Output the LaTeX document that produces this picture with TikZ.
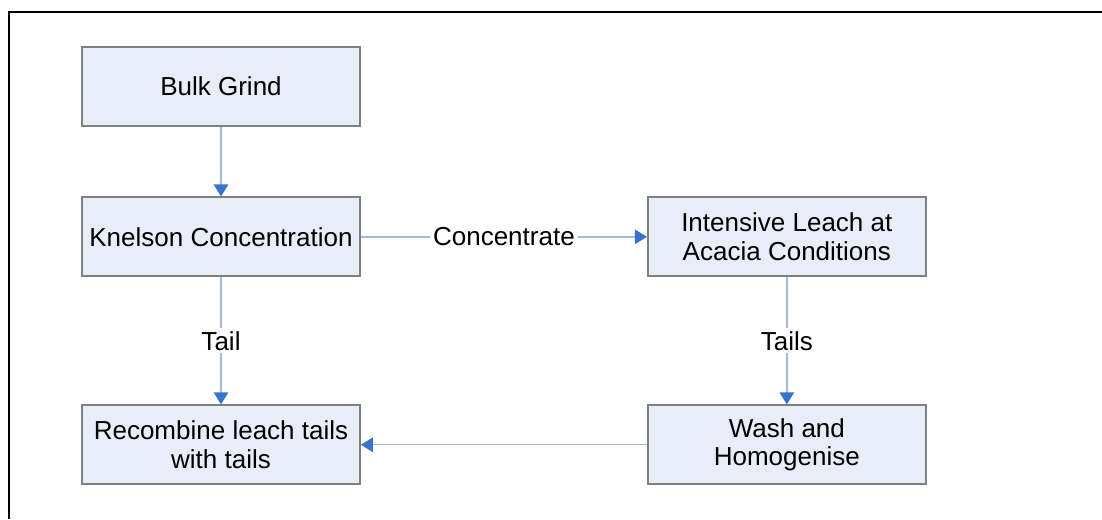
\documentclass[tikz,border=0pt]{standalone}
\usepackage{fontspec}
\setmainfont{Liberation Sans}
\definecolor{BoxFill}{RGB}{232,238,248}
\definecolor{BoxLine}{RGB}{128,128,128}
\definecolor{FlowLine}{RGB}{165,185,220}
\definecolor{FlowHead}{RGB}{55,115,205}
\usetikzlibrary{positioning,arrows.meta}

\begin{document}
\begin{tikzpicture}[x=0.025cm,y=-0.025cm,
      box/.style={draw=BoxLine,line width=1.2pt,fill=BoxFill,
                  minimum width=6.95cm,minimum height=1.975cm,align=center,
                  inner sep=0pt,font=\fontsize{18.5}{20.5}\selectfont},
      arrow/.style={draw=FlowLine,line width=1pt,
                    -{Triangle[width=0.36cm,length=0.3cm,color=FlowHead]}},
      lbl/.style={fill=white,inner sep=2pt,font=\fontsize{18.5}{20}\selectfont}]
    \useasboundingbox (0,0) rectangle (1102,519);
    \draw[line width=1.4pt] (9,519) -- (9,12) -- (1102,12);
    \node[box] (grind) at (221,86.5) {Bulk Grind};
    \node[box,below=1.74cm of grind] (knelson) {Knelson Concentration};
    \node[box,below=3.18cm of knelson] (recombine) {Recombine leach tails\\with tails};
    \node[box,right=7.15cm of knelson] (leach) {Intensive Leach at\\Acacia Conditions};
    \node[box,below=3.18cm of leach] (wash) {Wash and\\Homogenise};
    \draw[arrow] (grind) -- (knelson);
    \draw[arrow] (knelson) -- node[lbl] {Concentrate} (leach);
    \draw[arrow] (knelson) -- node[lbl] {Tail} (recombine);
    \draw[arrow] (leach) -- node[lbl] {Tails} (wash);
    \draw[arrow] (wash) -- (recombine);
  \end{tikzpicture}
\end{document}
